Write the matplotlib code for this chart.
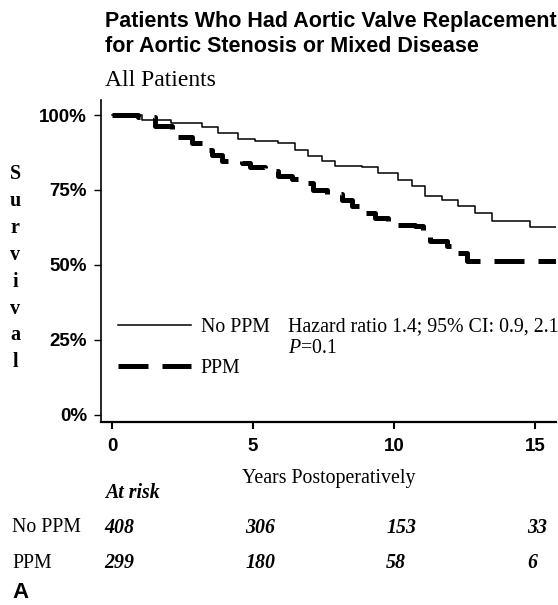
import matplotlib
matplotlib.use("Agg")
from matplotlib import pyplot as plt

matplotlib.rcParams['mathtext.fontset'] = 'custom'
matplotlib.rcParams['mathtext.it'] = 'Liberation Serif:italic'
matplotlib.rcParams['mathtext.rm'] = 'Liberation Serif'

# Kaplan-Meier estimates (years, survival %)
t_noppm = [0, 1.05, 2.1, 3.18, 3.77, 4.48, 5.07, 5.9, 6.49, 6.96, 7.44, 7.9, 8.85, 9.44,
           10.15, 10.63, 11.1, 11.7, 12.28, 12.87, 13.46, 14.82, 15.8]
s_noppm = [100, 98.4, 97.3, 95.9, 94.0, 92.1, 91.2, 90.7, 88.4, 86.2, 84.8, 82.9, 82.6,
           80.7, 78.4, 76.2, 72.9, 71.8, 69.6, 67.3, 64.6, 62.7, 62.7]
t_ppm = [0, 0.93, 1.52, 2.12, 2.29, 2.83, 3.18, 3.53, 3.89, 4.6, 4.89, 5.43, 5.9, 6.37,
         6.96, 7.14, 7.61, 8.15, 8.5, 8.79, 9.33, 9.8, 10.74, 11.04, 11.28, 11.87, 12.28,
         12.58, 15.8]
s_ppm = [100, 99.2, 96.2, 95.1, 92.6, 90.7, 88.4, 86.8, 84.6, 84.0, 82.6, 81.2, 79.6,
         78.8, 77.3, 75.1, 73.7, 71.8, 69.6, 67.3, 65.7, 63.4, 62.9, 60.7, 58.1, 56.2,
         54.0, 51.4, 51.4]

risk_years = [0, 5, 10, 15]
risk_noppm = [408, 306, 153, 33]
risk_ppm = [299, 180, 58, 6]

serif = 'Liberation Serif'
sans = 'Liberation Sans'

fig = plt.figure(figsize=(5.58, 6.05), dpi=100)
ax = fig.add_axes([0.181, 0.3017, 0.8154, 0.533])

ax.plot(t_noppm, s_noppm, drawstyle='steps-post', color='black', lw=1.1, label='No PPM')
ax.plot(t_ppm, s_ppm, drawstyle='steps-post', color='black', lw=3.6,
        dashes=(6, 2.8), label='PPM')

ax.set_xlim(-0.39, 15.74)
ax.set_ylim(-2.5, 105)
ax.spines['top'].set_visible(False)
ax.spines['right'].set_visible(False)
ax.spines['left'].set_linewidth(1.2)
ax.spines['bottom'].set_linewidth(1.6)

ax.set_xticks(risk_years)
ax.set_xticklabels([str(x) for x in risk_years], fontfamily=sans,
                   fontweight='bold', fontsize=13.5)
ax.set_yticks([0, 25, 50, 75, 100])
ax.set_yticklabels(['0%', '25%', '50%', '75%', '100%'], fontfamily=sans,
                   fontweight='bold', fontsize=13.5)
ax.tick_params(axis='y', length=5, width=1, pad=5)
ax.tick_params(axis='x', length=5, width=1.5, pad=6)

ax.set_xlabel('Years Postoperatively', fontfamily=serif, fontsize=14.3, labelpad=10)

ax.legend(loc='upper left', bbox_to_anchor=(0.02, 0.349), frameon=False,
          prop={'family': serif, 'size': 14.3}, handlelength=3.67,
          handletextpad=0.5, labelspacing=1.1, borderaxespad=0)

ax.text(6.24, 29.3, 'Hazard ratio 1.4; 95% CI: 0.9, 2.1', fontfamily=serif,
        fontsize=14.3, ha='left', va='center')
ax.text(6.24, 22.3, r'$P$=0.1', fontfamily=serif, fontsize=14.3,
        ha='left', va='center')

# at-risk table
tr = ax.get_xaxis_transform()
ax.text(-0.25, -0.219, 'At risk', transform=tr, fontfamily=serif,
        fontweight='bold', fontstyle='italic', fontsize=14.3, ha='left', va='center')
for x, n1, n2 in zip(risk_years, risk_noppm, risk_ppm):
    ax.text(x - 0.28, -0.327, str(n1), transform=tr, fontfamily=serif,
            fontweight='bold', fontstyle='italic', fontsize=14.3, ha='left', va='center')
    ax.text(x - 0.28, -0.436, str(n2), transform=tr, fontfamily=serif,
            fontweight='bold', fontstyle='italic', fontsize=14.3, ha='left', va='center')
fig.text(0.0215, 1 - 528 / 605, 'No PPM', fontfamily=serif, fontsize=14.3,
         ha='left', va='center')
fig.text(0.0215, 1 - 563 / 605, 'PPM', fontfamily=serif, fontsize=14.3,
         ha='left', va='center')

# vertical axis title, one letter per line
for i, ch in enumerate('Survival'):
    fig.text(0.027, 1 - (179 + 26.9 * i) / 605, ch, fontfamily=serif,
             fontweight='bold', fontsize=14.5, ha='center', va='baseline')

fig.text(0.188, 1 - 22 / 605, 'Patients Who Had Aortic Valve Replacement',
         fontfamily=sans, fontweight='bold', fontsize=15.5, va='center')
fig.text(0.188, 1 - 47 / 605, 'for Aortic Stenosis or Mixed Disease',
         fontfamily=sans, fontweight='bold', fontsize=15.5, va='center')
fig.text(0.188, 1 - 80 / 605, 'All Patients', fontfamily=serif,
         fontsize=17, va='center')
fig.text(0.023, 1 - 592 / 605, 'A', fontfamily=sans, fontweight='bold',
         fontsize=16, va='center')

fig.savefig('out.png', dpi=100)
